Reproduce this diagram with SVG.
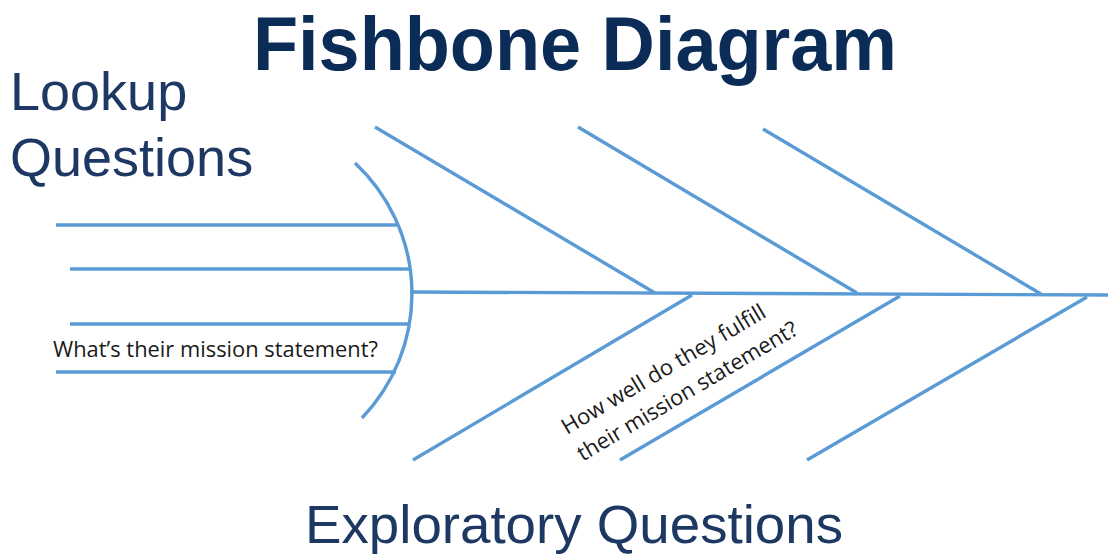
<svg xmlns="http://www.w3.org/2000/svg" width="1108" height="555" viewBox="0 0 1108 555">
<style>
.bone{stroke:#5b9bd5;stroke-width:3.4;fill:none;stroke-linecap:butt}
.title{font-family:"Liberation Sans",Arial,sans-serif;font-weight:bold;font-size:76px;fill:#0a2c57}
.cat{font-family:"Liberation Sans",Arial,sans-serif;font-size:54px;fill:#1d3862}
.q{font-family:"Open Sans","Noto Sans",sans-serif;font-size:22px;fill:#1a1a1a}
</style>
<rect width="1108" height="555" fill="#ffffff"/>
<g id="title"><text class="title" x="253" y="70" textLength="644" lengthAdjust="spacingAndGlyphs">Fishbone Diagram</text></g>
<g id="lookup"><text class="cat" x="10" y="110">Lookup</text><text class="cat" x="10" y="176">Questions</text></g>
<g id="exploratory"><text class="cat" x="305" y="543" textLength="538" lengthAdjust="spacingAndGlyphs">Exploratory Questions</text></g>
<g id="connectors">
<path class="bone" d="M355 163 A179 179 0 0 1 362 418"/>
<line class="bone" x1="410" y1="292" x2="1108" y2="295"/>
<line class="bone" x1="56" y1="225" x2="397" y2="225"/>
<line class="bone" x1="70" y1="269" x2="409" y2="269"/>
<line class="bone" x1="70" y1="324" x2="409" y2="324"/>
<line class="bone" x1="56" y1="372" x2="396" y2="372"/>
<line class="bone" x1="375" y1="127" x2="655" y2="293"/>
<line class="bone" x1="578" y1="127" x2="857" y2="293"/>
<line class="bone" x1="763" y1="129" x2="1041" y2="294"/>
<line class="bone" x1="692" y1="295" x2="413" y2="460"/>
<line class="bone" x1="900" y1="296" x2="620" y2="460"/>
<line class="bone" x1="1087" y1="297" x2="807" y2="460"/>
</g>
<g id="q-mission"><text class="q" x="53" y="357" textLength="325" lengthAdjust="spacingAndGlyphs">What’s their mission statement?</text></g>
<g id="q-fulfill" transform="rotate(-30.6 567 435)"><text class="q" x="567" y="435" textLength="233" lengthAdjust="spacingAndGlyphs">How well do they fulfill</text><text class="q" x="567" y="466" textLength="252" lengthAdjust="spacingAndGlyphs">their mission statement?</text></g>
</svg>
